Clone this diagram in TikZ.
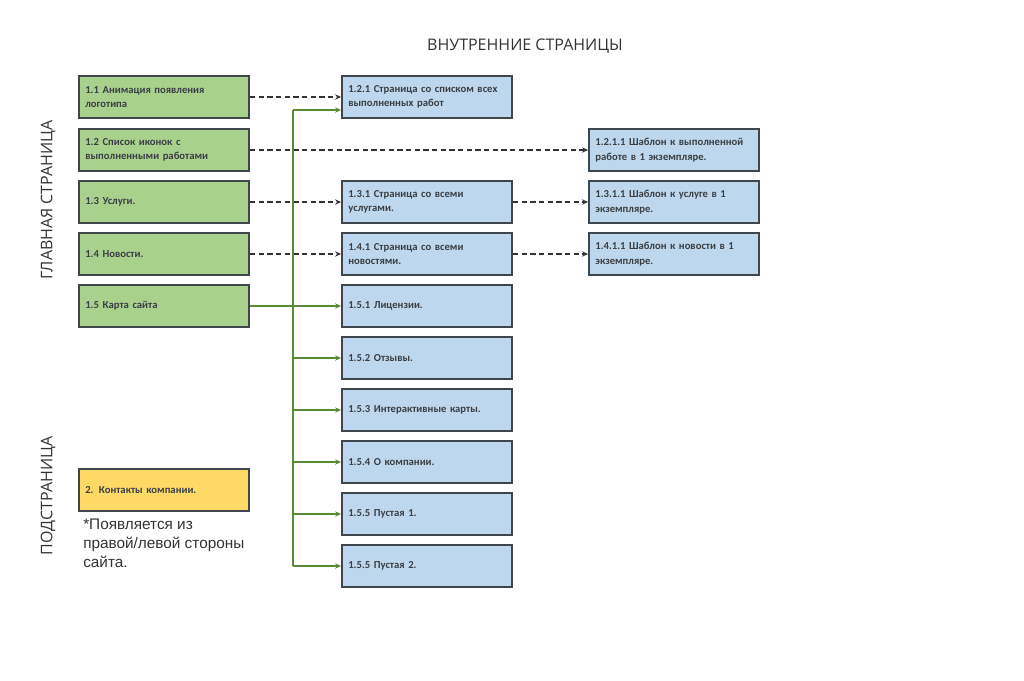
\documentclass[tikz,border=0pt]{standalone}
\usepackage{fontspec}
\setmainfont{Carlito}
\newfontfamily\osans{Open Sans}
\newfontfamily\lsans{Liberation Sans}
\usetikzlibrary{arrows.meta}
\definecolor{gfill}{HTML}{A9D18E}
\definecolor{bfill}{HTML}{BDD7EE}
\definecolor{yfill}{HTML}{FFD966}
\definecolor{frame}{HTML}{3F464C}
\definecolor{txt}{HTML}{3A3F44}
\definecolor{lgreen}{HTML}{5B8A36}
\tikzset{
  pbox/.style={draw=frame,line width=1.4pt,minimum width=127.5pt,minimum height=31pt,
    text width=118pt,align=left,inner xsep=3.5pt,inner ysep=4pt,text=txt,font=\bfseries\fontsize{8}{10.8}\selectfont},
  gbox/.style={pbox,fill=gfill},
  bbox/.style={pbox,fill=bfill},
  ybox/.style={pbox,fill=yfill},
  dlink/.style={dash pattern=on 4pt off 2.5pt,line width=1.3pt,draw=black!80,-{Stealth[length=4.5pt,width=4pt]}},
  glink/.style={line width=1.3pt,draw=lgreen,-{Stealth[length=4.5pt,width=4pt]}}
}
\begin{document}
\begin{tikzpicture}[x=0.75pt,y=-0.75pt]
\useasboundingbox (0,0) rectangle (1024,681);
\node[font=\osans\fontsize{12}{14}\selectfont,text=black!80] (title) at (525,46) {ВНУТРЕННИЕ СТРАНИЦЫ};
\node[rotate=90,font=\osans\fontsize{12}{14}\selectfont,text=black!80] (main) at (48,200) {ГЛАВНАЯ СТРАНИЦА};
\node[rotate=90,font=\osans\fontsize{12}{14}\selectfont,text=black!80] (sub) at (48,496) {ПОДСТРАНИЦА};
% main page
\node[gbox] (n11) at (164,97) {1.1 Анимация появления логотипа};
\node[gbox] (n12) at (164,150) {1.2 Список иконок с выполненными работами};
\node[gbox] (n13) at (164,202) {1.3 Услуги.};
\node[gbox] (n14) at (164,254) {1.4 Новости.};
\node[gbox] (n15) at (164,306) {1.5 Карта сайта};
\node[ybox] (n2) at (164,490) {2. Контакты компании.};
\node[anchor=north west,align=left,inner sep=0pt,text=black!80,font=\lsans\fontsize{11.5}{14}\selectfont] (note) at (83,519)
  {*Появляется из\\правой/левой стороны\\сайта.};
% inner pages
\node[bbox] (n121) at (427,97) {1.2.1 Страница со списком всех выполненных работ};
\node[bbox] (n131) at (427,202) {1.3.1 Страница со всеми услугами.};
\node[bbox] (n141) at (427,254) {1.4.1 Страница со всеми новостями.};
\node[bbox] (n151) at (427,306) {1.5.1 Лицензии.};
\node[bbox] (n152) at (427,358) {1.5.2 Отзывы.};
\node[bbox] (n153) at (427,410) {1.5.3 Интерактивные карты.};
\node[bbox] (n154) at (427,462) {1.5.4 О компании.};
\node[bbox] (n155) at (427,514) {1.5.5 Пустая 1.};
\node[bbox] (n156) at (427,566) {1.5.5 Пустая 2.};
\node[bbox] (n1211) at (674,150) {1.2.1.1 Шаблон к выполненной работе в 1 экземпляре.};
\node[bbox] (n1311) at (674,202) {1.3.1.1 Шаблон к услуге в 1 экземпляре.};
\node[bbox] (n1411) at (674,254) {1.4.1.1 Шаблон к новости в 1 экземпляре.};
% links
\draw[dlink] (n11) -- (n121);
\draw[dlink] (n12) -- (n1211);
\draw[dlink] (n13) -- (n131);
\draw[dlink] (n14) -- (n141);
\draw[dlink] (n131) -- (n1311);
\draw[dlink] (n141) -- (n1411);
\coordinate (top) at (293,110);
\coordinate (bot) at (293,566);
\draw[lgreen,line width=1.3pt] (top) -- (bot);
\draw[glink] (top) -- (n121.west |- top);
\draw[glink] (n15) -- (n151);
\foreach \n in {n152,n153,n154,n155,n156}
  \draw[glink] (top |- \n) -- (\n);
\end{tikzpicture}
\end{document}
